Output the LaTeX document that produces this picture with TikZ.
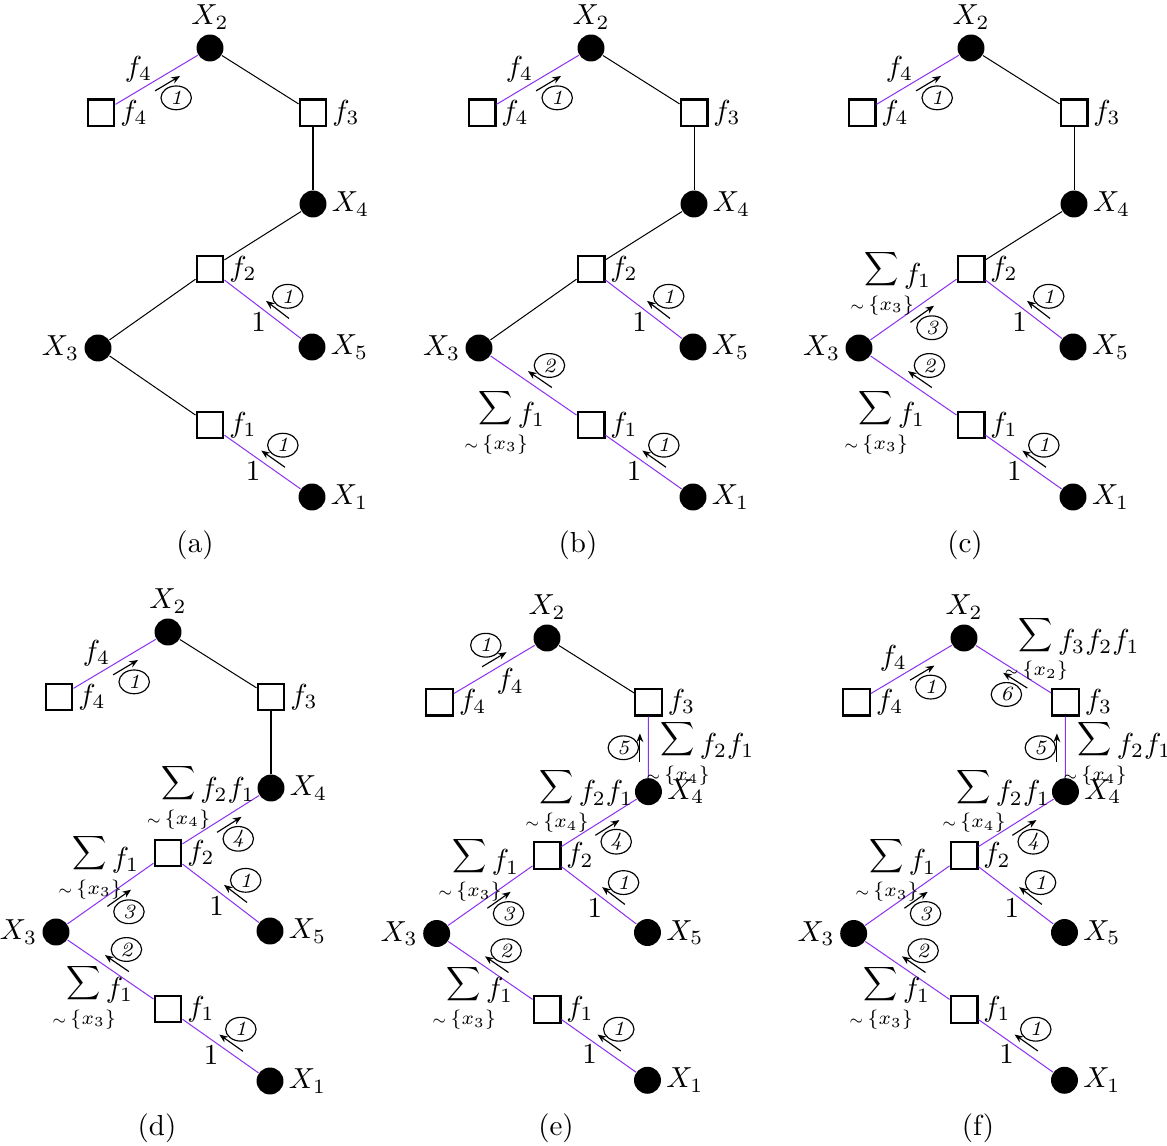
\documentclass[tikz,border=0pt]{standalone}
\usepackage{amsmath,amssymb,mathtools}
\usepackage{graphicx}
\usepackage{xcolor}
\usepackage{tikz}
\usetikzlibrary{shapes,arrows.meta,positioning,calc}

\definecolor{msgcol}{RGB}{140,50,240}

% short arrow beside a link, with the step number in a ring
\newcommand{\msgarrow}[5]{%
  \pgfmathanglebetweenpoints{\pgfpointanchor{#1}{center}}{\pgfpointanchor{#2}{center}}%
  \let\msgangle\pgfmathresult
  \begin{scope}[shift={($(#1)!#3!(#2)$)}, rotate=\msgangle, yscale=#4]
    \draw[msgtip] (-5pt,3pt) -- (5pt,3pt);
    \node[stepnum] (n#1#2) at (0,8.8pt) {#5};
  \end{scope}}
% summed-out message
\newcommand{\summsg}[2]{$\mathop{\raisebox{2.8pt}{\scalebox{.82}{$\displaystyle\sum$}}}\limits_{\mathclap{\raisebox{-1.5pt}{\scalebox{.95}{$\scriptscriptstyle\sim\,\scriptstyle\{#1\}$}}}} #2$}

\begin{document}
\begin{tikzpicture}[
    x=0.345pt, y=-0.345pt,
    var/.style={circle, fill=black, minimum size=9.3pt, inner sep=0pt},
    fac/.style={rectangle, draw, line width=0.7pt, fill=white, minimum size=9.3pt, inner sep=0pt},
    link/.style={line width=0.35pt},
    msgtip/.style={-{Stealth[length=3pt, width=2.4pt]}, line width=0.4pt},
    stepnum/.style={ellipse, draw, line width=0.4pt, minimum width=10.5pt, minimum height=8.2pt, inner sep=0pt, font=\scriptsize\itshape},
    sumlabel/.style={inner sep=0pt},
    every label/.append style={inner sep=1.5pt}
]
\useasboundingbox (0,0) rectangle (1167,1146);

\foreach \k/\p/\ox/\oy/\fs/\lx/\ly/\cx/\cy in {1/a/210/48/1/0/0/195/545, 2/b/591/48/1/0/0/578/545,
    3/c/971/48/1/0/0/965/545, 4/d/168/632/1/11/-9/157/1128,
    5/e/547/638/.985/11/-9/556/1128, 6/f/964/638/.985/11/-9/978/1128}{
  \begin{scope}[shift={(\ox,\oy)}, scale=\fs]
    \node[var, label=above:$X_2$] (X2\p) at (0,0) {};
    \node[fac, label=right:$f_4$] (f4\p) at (-109,65) {};
    \node[fac, label=right:$f_3$] (f3\p) at (103,65) {};
    \node[var, label=right:$X_4$] (X4\p) at (103,156) {};
    \node[fac, label=right:$f_2$] (f2\p) at (0,221) {};
    \node[var, label=left:$X_3$] (X3\p) at (-112,300) {};
    \node[var, label=right:$X_5$] (X5\p) at (102,299) {};
    \node[fac, label=right:$f_1$] (f1\p) at (0,377) {};
    \node[var, label=right:$X_1$] (X1\p) at (102,449) {};

    % links that carry a message by this step
    \ifnum\k>1 \colorlet{lD}{msgcol}\else\colorlet{lD}{black}\fi
    \ifnum\k>2 \colorlet{lE}{msgcol}\else\colorlet{lE}{black}\fi
    \ifnum\k>3 \colorlet{lF}{msgcol}\else\colorlet{lF}{black}\fi
    \ifnum\k>4 \colorlet{lG}{msgcol}\else\colorlet{lG}{black}\fi
    \ifnum\k>5 \colorlet{lH}{msgcol}\else\colorlet{lH}{black}\fi
    \draw[link, draw=lH] (X2\p) -- (f3\p);
    \draw[link, draw=lG] (f3\p) -- (X4\p);
    \draw[link, draw=lF] (X4\p) -- (f2\p);
    \draw[link, draw=lE] (f2\p) -- (X3\p);
    \draw[link, draw=lD] (X3\p) -- (f1\p);

    % step 1: leaves
    \draw[link, draw=msgcol] (X5\p) -- node[pos=.45, anchor=north east, inner sep=0pt] (mB\p) {$1$} (f2\p);
    \msgarrow{X5\p}{f2\p}{.39}{-1}{1}
    \draw[link, draw=msgcol] (X1\p) -- node[pos=.52, anchor=north east, inner sep=0pt] (mC\p) {$1$} (f1\p);
    \msgarrow{X1\p}{f1\p}{.43}{-1}{1}
    \ifnum\k=5
      \draw[link, draw=msgcol] (f4\p) -- node[pos=.52, below right=0pt, inner sep=0pt] (mA\p) {$f_4$} (X2\p);
      \msgarrow{f4\p}{X2\p}{.55}{1}{1}
    \else
      \draw[link, draw=msgcol] (f4\p) -- node[pos=.45, above left=0pt, inner sep=0pt] (mA\p) {$f_4$} (X2\p);
      \msgarrow{f4\p}{X2\p}{.57}{-1}{1}
    \fi

    % steps 2 to 6
    \ifnum\k>1
      \node[sumlabel] (mD\p) at ({-79+\lx},{375+\ly}) {\summsg{x_3}{f_1}};
      \msgarrow{f1\p}{X3\p}{.5}{-1}{2}
    \fi
    \ifnum\k>2
      \node[sumlabel] (mE\p) at ({-73+\lx},236) {\summsg{x_3}{f_1}};
      \msgarrow{X3\p}{f2\p}{.52}{-1}{3}
    \fi
    \ifnum\k>3
      \node[sumlabel] (mF\p) at (40,166) {\summsg{x_4}{f_2f_1}};
      \msgarrow{f2\p}{X4\p}{.55}{-1}{4}
    \fi
    \ifnum\k>4
      \node[sumlabel] (mG\p) at (163,118) {\summsg{x_4}{f_2f_1}};
      \msgarrow{X4\p}{f3\p}{.49}{1}{5}
    \fi
    \ifnum\k>5
      \node[sumlabel] (mH\p) at (117,12) {\summsg{x_2}{f_3f_2f_1}};
      \msgarrow{f3\p}{X2\p}{.45}{1}{6}
    \fi
  \end{scope}
  \node (cap\p) at (\cx,\cy) {(\p)};
}
\end{tikzpicture}
\end{document}
